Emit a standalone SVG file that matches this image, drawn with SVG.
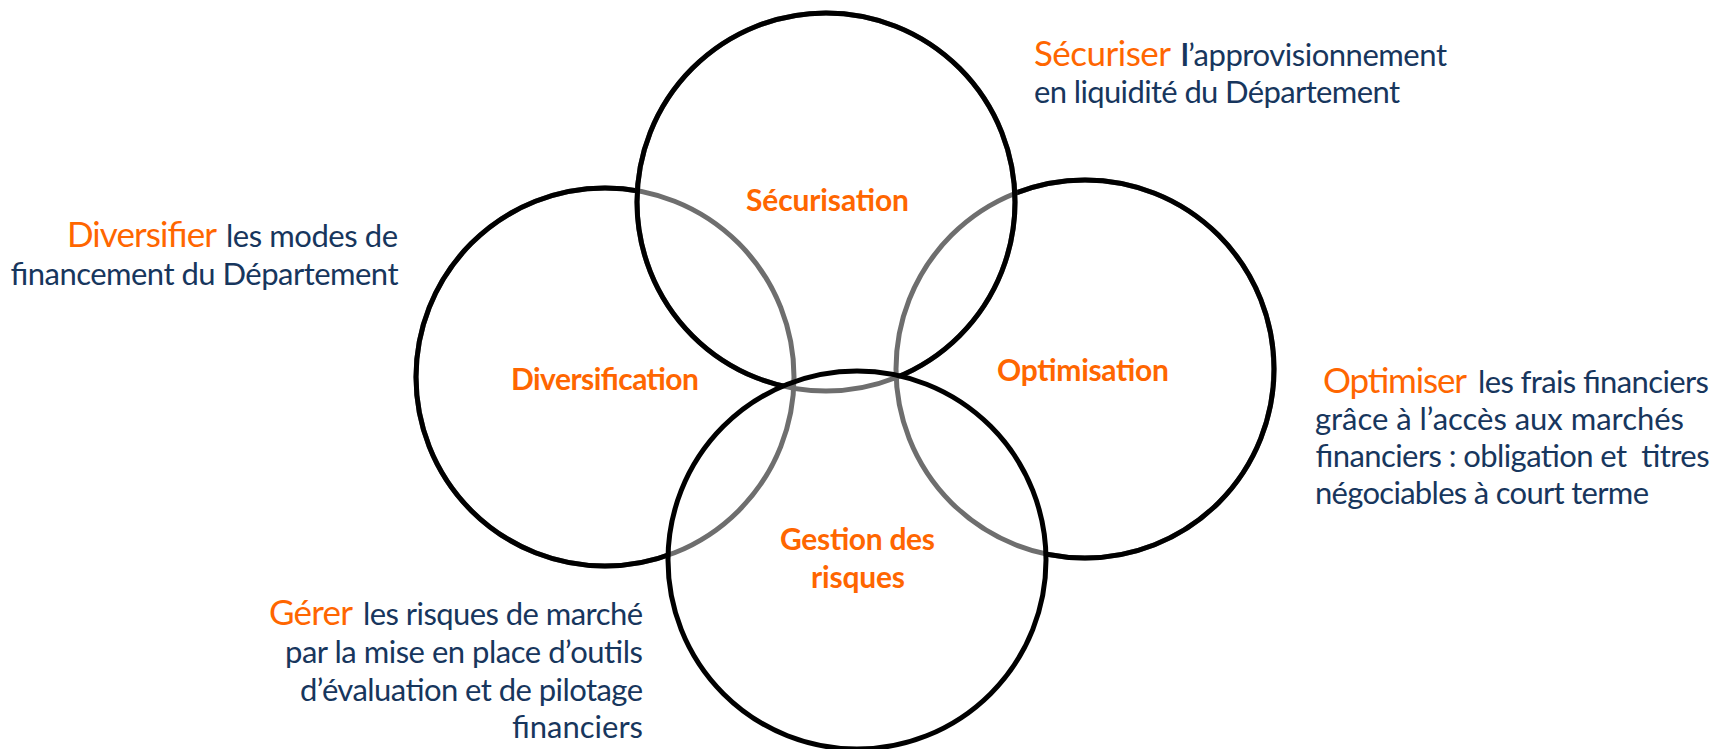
<svg xmlns="http://www.w3.org/2000/svg" width="1718" height="749" viewBox="0 0 1718 749">
<style>
.ring{fill:none;stroke-width:5}
.blk{stroke:#000}
.gry{stroke:#6e6e6e}
.lbl{font-family:Lato,"Open Sans","Liberation Sans",sans-serif;font-weight:bold;font-size:30px;fill:#FF6600}
.or{font-family:Lato,"Open Sans","Liberation Sans",sans-serif;font-size:35px;fill:#FF6600}
.bl{font-family:Lato,"Open Sans","Liberation Sans",sans-serif;font-size:31px;fill:#17365D;white-space:pre}
</style>
<defs>
<mask id="outTB" maskUnits="userSpaceOnUse" x="0" y="0" width="1718" height="749">
<rect x="0" y="0" width="1718" height="749" fill="#fff"/>
<circle cx="826" cy="202" r="189" fill="#000"/>
<circle cx="857" cy="560" r="189" fill="#000"/>
</mask>
<mask id="outB" maskUnits="userSpaceOnUse" x="0" y="0" width="1718" height="749">
<rect x="0" y="0" width="1718" height="749" fill="#fff"/>
<circle cx="857" cy="560" r="189" fill="#000"/>
</mask>
</defs>
<rect width="1718" height="749" fill="#fff"/>

<g id="diversification">
<circle class="ring gry" cx="605" cy="377" r="189"/>
<circle class="ring blk" cx="605" cy="377" r="189" mask="url(#outTB)"/>
<text class="lbl" x="511" y="390" textLength="188" lengthAdjust="spacing">Diversification</text>
</g>

<g id="optimisation">
<circle class="ring gry" cx="1085" cy="369" r="189"/>
<circle class="ring blk" cx="1085" cy="369" r="189" mask="url(#outTB)"/>
<text class="lbl" x="997" y="381" textLength="172" lengthAdjust="spacing">Optimisation</text>
</g>

<g id="securisation">
<circle class="ring gry" cx="826" cy="202" r="189"/>
<circle class="ring blk" cx="826" cy="202" r="189" mask="url(#outB)"/>
<text class="lbl" x="746" y="211" textLength="163" lengthAdjust="spacing">Sécurisation</text>
</g>

<g id="gestion">
<circle class="ring blk" cx="857" cy="560" r="189"/>
<text class="lbl" x="780" y="550" textLength="155" lengthAdjust="spacing">Gestion des</text>
<text class="lbl" x="811" y="588" textLength="94" lengthAdjust="spacing">risques</text>
</g>

<g id="connectors"></g>

<g id="desc-securiser">
<text class="or" x="1034" y="66" textLength="137" lengthAdjust="spacing">Sécuriser</text>
<text class="bl" x="1181" y="66" textLength="266" lengthAdjust="spacing"><tspan font-weight="bold">l</tspan>’approvisionnement</text>
<text class="bl" x="1034" y="103" textLength="366" lengthAdjust="spacing">en liquidité du Département</text>
</g>

<g id="desc-diversifier">
<text class="or" x="67" y="247" textLength="150" lengthAdjust="spacing">Diversifier</text>
<text class="bl" x="226" y="247" textLength="172" lengthAdjust="spacing">les modes de</text>
<text class="bl" x="10" y="285" textLength="388" lengthAdjust="spacing">financement du Département</text>
</g>

<g id="desc-optimiser">
<text class="or" x="1323" y="393" textLength="144" lengthAdjust="spacing">Optimiser</text>
<text class="bl" x="1478" y="393" textLength="231" lengthAdjust="spacing">les frais financiers</text>
<text class="bl" x="1315" y="430" textLength="369" lengthAdjust="spacing">grâce à l’accès aux marchés</text>
<text class="bl" x="1315" y="467" textLength="394" lengthAdjust="spacing">financiers : obligation et  titres</text>
<text class="bl" x="1315" y="504" textLength="334" lengthAdjust="spacing">négociables à court terme</text>
</g>

<g id="desc-gerer">
<text class="or" x="269" y="625" textLength="84" lengthAdjust="spacing">Gérer</text>
<text class="bl" x="363" y="625" textLength="280" lengthAdjust="spacing">les risques de marché</text>
<text class="bl" x="285" y="663" textLength="358" lengthAdjust="spacing">par la mise en place d’outils</text>
<text class="bl" x="300" y="701" textLength="343" lengthAdjust="spacing">d’évaluation et de pilotage</text>
<text class="bl" x="643" y="738" text-anchor="end">financiers</text>
</g>
</svg>
